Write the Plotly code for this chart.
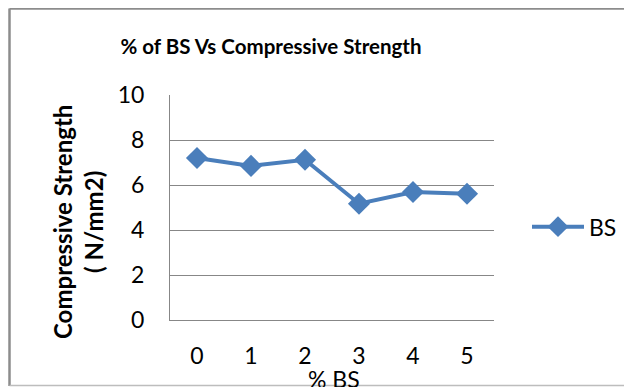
import plotly.graph_objects as go

categories = ["0", "1", "2", "3", "4", "5"]
bs_values = [7.2, 6.85, 7.12, 5.17, 5.69, 5.61]
y_ticks = [0, 2, 4, 6, 8, 10]

FONT = "Lato"
BLUE = "#4A7EBB"
GRID = "#878787"

fig = go.Figure()
fig.add_trace(go.Scatter(
    x=categories, y=bs_values, name="BS", mode="lines+markers",
    line=dict(color=BLUE, width=4),
    marker=dict(symbol="diamond", size=17, color=BLUE),
))

fig.update_layout(
    width=632, height=387,
    margin=dict(l=162, r=146, t=87, b=75),
    paper_bgcolor="white", plot_bgcolor="white",
    font=dict(family=FONT, color="black", size=23),
    title=dict(text="% of BS Vs Compressive Strength", x=263/632, xanchor="center",
               y=1-39/387, yanchor="middle",
               font=dict(family=FONT, size=20.5, color="black", weight="bold")),
    showlegend=True,
    legend=dict(x=(527-170)/324, y=(320-226.7)/225, xanchor="left", yanchor="middle",
                font=dict(family=FONT, size=23, color="black"),
                bgcolor="rgba(0,0,0,0)", itemwidth=52),
    xaxis=dict(type="category", range=[-0.5, 5.5], showgrid=False,
               showline=True, linecolor=GRID, linewidth=1,
               ticks="", ticklabelstandoff=15,
               tickfont=dict(family=FONT, size=23, color="black"),
               fixedrange=True),
    yaxis=dict(range=[0, 10], tickvals=y_ticks, showgrid=True, gridcolor=GRID, gridwidth=1,
               showline=True, linecolor=GRID, linewidth=1, zeroline=False,
               ticks="", ticklabelstandoff=20,
               tickfont=dict(family=FONT, size=23, color="black")),
    annotations=[
        dict(text="Compressive Strength<br>( N/mm2)", xref="paper", yref="paper",
             x=(78-170)/324, y=(320-222)/225, xanchor="center", yanchor="middle",
             textangle=-90, showarrow=False,
             font=dict(family=FONT, size=24, color="black", weight="bold")),
        dict(text="% BS", xref="paper", yref="paper",
             x=(333.5-170)/324, y=(320-379)/225, xanchor="center", yanchor="middle",
             showarrow=False, font=dict(family=FONT, size=23, color="black")),
    ],
    shapes=[
        dict(type="line", xref="paper", yref="paper", x0=(9.5-170)/324, x1=2,
             y0=(320-8.5)/225, y1=(320-8.5)/225, line=dict(color="#8C8C8C", width=2.5)),
        dict(type="line", xref="paper", yref="paper", x0=(9.5-170)/324, x1=(9.5-170)/324,
             y0=(320-8.5)/225, y1=(320-386)/225, line=dict(color="#8C8C8C", width=2.5)),
        dict(type="line", xref="paper", yref="paper", x0=(9.5-170)/324, x1=2,
             y0=(320-385.5)/225, y1=(320-385.5)/225, line=dict(color="#BDBDBD", width=1.5)),
    ],
)

fig.write_html("out.html")
